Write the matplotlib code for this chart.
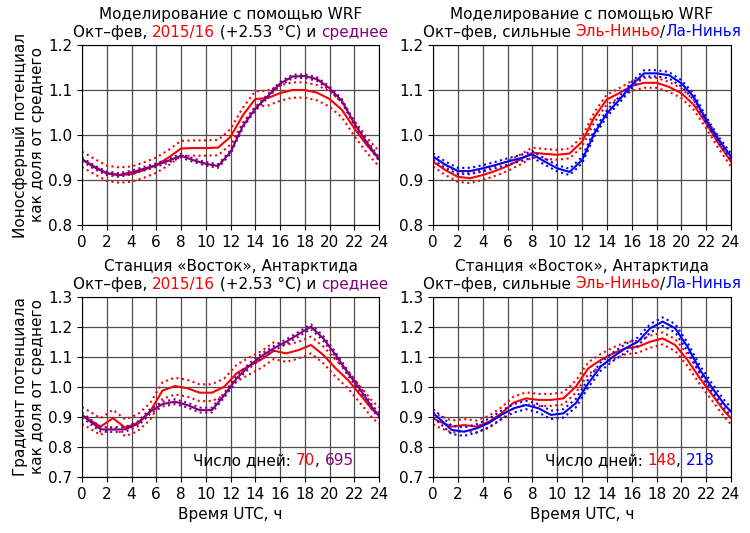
import numpy as np
import matplotlib
matplotlib.use("Agg")
import matplotlib.pyplot as plt
from matplotlib.transforms import offset_copy

# --- data --------------------------------------------------------------------
hours_wrf = list(range(25))
hours_vostok = [0, 0.5] + [h + 0.5 for h in range(1, 23)] + [23.5, 24]
hours_vostok = sorted(set(hours_vostok))

# WRF, 2015/16 vs mean
wrf_2015 = [0.946, 0.930, 0.915, 0.911, 0.913, 0.922, 0.933, 0.950, 0.970, 0.971,
            0.971, 0.972, 0.996, 1.044, 1.080, 1.082, 1.093, 1.100, 1.100, 1.094,
            1.080, 1.056, 1.015, 0.978, 0.947]
wrf_mean = [0.946, 0.928, 0.915, 0.911, 0.917, 0.925, 0.933, 0.943, 0.954, 0.944,
            0.936, 0.931, 0.962, 1.020, 1.058, 1.086, 1.114, 1.130, 1.131, 1.124,
            1.104, 1.076, 1.026, 0.984, 0.947]
# WRF, strong El Nino / La Nina
wrf_nino = [0.941, 0.922, 0.907, 0.904, 0.911, 0.920, 0.931, 0.945, 0.961, 0.958,
            0.956, 0.959, 0.985, 1.040, 1.079, 1.093, 1.109, 1.116, 1.116, 1.107,
            1.093, 1.067, 1.026, 0.981, 0.941]
wrf_nina = [0.952, 0.934, 0.920, 0.920, 0.926, 0.933, 0.941, 0.948, 0.957, 0.941,
            0.926, 0.918, 0.944, 1.004, 1.048, 1.078, 1.111, 1.137, 1.137, 1.133,
            1.115, 1.085, 1.033, 0.989, 0.952]

# Vostok, 2015/16 vs mean (x = 0, 0.5, 1.5, ..., 23.5, 24)
vos_2015 = [0.905, 0.893, 0.868, 0.896, 0.864, 0.881, 0.918, 0.988, 1.003, 0.996,
            0.981, 0.981, 1.001, 1.046, 1.070, 1.092, 1.121, 1.112, 1.123, 1.140,
            1.107, 1.062, 1.023, 0.973, 0.923, 0.905]
vos_mean = [0.907, 0.890, 0.859, 0.858, 0.859, 0.877, 0.918, 0.943, 0.951, 0.940,
            0.923, 0.923, 0.973, 1.029, 1.070, 1.103, 1.129, 1.151, 1.176, 1.201,
            1.162, 1.107, 1.046, 0.990, 0.929, 0.905]
# Vostok, strong El Nino / La Nina
vos_nino = [0.896, 0.885, 0.868, 0.873, 0.868, 0.884, 0.912, 0.948, 0.962, 0.957,
            0.957, 0.962, 1.001, 1.062, 1.090, 1.112, 1.129, 1.134, 1.151, 1.162,
            1.140, 1.090, 1.029, 0.973, 0.918, 0.896]
vos_nina = [0.912, 0.895, 0.857, 0.851, 0.862, 0.880, 0.907, 0.929, 0.940, 0.929,
            0.907, 0.912, 0.946, 1.012, 1.068, 1.101, 1.129, 1.151, 1.196, 1.218,
            1.196, 1.134, 1.057, 0.996, 0.940, 0.918]

# half-widths of the dotted confidence bands
ci_wrf_2015, ci_wrf_mean = 0.017, 0.004
ci_wrf_nino, ci_wrf_nina = 0.011, 0.007
ci_vos_2015, ci_vos_mean = 0.028, 0.008
ci_vos_nino, ci_vos_nina = 0.020, 0.014

n_days_2015, n_days_mean = "70", "695"
n_days_nino, n_days_nina = "148", "218"

RED, PURPLE, BLUE, BLACK = "red", "purple", "blue", "black"
FS = 11

fig = plt.figure(figsize=(7.5, 5.33), dpi=100)
R = fig.canvas.get_renderer()


def width(s):
    t = fig.text(0, 0, s + "|", fontsize=FS)
    w = t.get_window_extent(R).width
    t.remove()
    return w


def rich(ax, parts, x, y, dy=0, trans=None, ha="center"):
    """Draw a line of text built from (string, colour) parts."""
    trans = ax.transAxes if trans is None else trans
    bar = width("")
    full = "".join(s for s, _ in parts)
    total = width(full) - bar
    start = -total / 2 if ha == "center" else 0
    prefix = ""
    for s, c in parts:
        off = start + width(prefix) - bar
        tr = offset_copy(trans, fig=fig, x=off, y=dy, units="dots")
        ax.text(x, y, s, color=c, fontsize=FS, transform=tr, ha="left", va="center")
        prefix += s


def band(ax, x, y, ci, color):
    y = np.asarray(y)
    ax.plot(x, y, "-", color=color, lw=1.5)
    ax.plot(x, y + ci, ":", color=color, lw=1.5)
    ax.plot(x, y - ci, ":", color=color, lw=1.5)


def setup(ax, ylim, yticks):
    ax.set_xlim(0, 24)
    ax.set_ylim(*ylim)
    ax.set_xticks(range(0, 25, 2))
    ax.set_yticks(yticks)
    ax.set_yticklabels([f"{v:.1f}" for v in yticks])
    ax.tick_params(labelsize=FS)
    ax.grid(True, color="0.3", lw=0.9)
    ax.set_axisbelow(True)


L, W = 82 / 750, 297 / 750
L2, W2 = 433 / 750, 298 / 750
H = 180 / 533
B_top, B_bot = 1 - 225 / 533, 1 - 477 / 533

ax1 = fig.add_axes([L, B_top, W, H])
ax2 = fig.add_axes([L2, B_top, W2, H])
ax3 = fig.add_axes([L, B_bot, W, H])
ax4 = fig.add_axes([L2, B_bot, W2, H])

top_ticks = [0.8, 0.9, 1.0, 1.1, 1.2]
bot_ticks = [0.7, 0.8, 0.9, 1.0, 1.1, 1.2, 1.3]
for ax in (ax1, ax2):
    setup(ax, (0.8, 1.2), top_ticks)
for ax in (ax3, ax4):
    setup(ax, (0.7, 1.3), bot_ticks)

band(ax1, hours_wrf, wrf_2015, ci_wrf_2015, RED)
band(ax1, hours_wrf, wrf_mean, ci_wrf_mean, PURPLE)
band(ax2, hours_wrf, wrf_nino, ci_wrf_nino, RED)
band(ax2, hours_wrf, wrf_nina, ci_wrf_nina, BLUE)
band(ax3, hours_vostok, vos_2015, ci_vos_2015, RED)
band(ax3, hours_vostok, vos_mean, ci_vos_mean, PURPLE)
band(ax4, hours_vostok, vos_nino, ci_vos_nino, RED)
band(ax4, hours_vostok, vos_nina, ci_vos_nina, BLUE)

# titles (two lines, second one multi-coloured)
year_parts = [("Окт–фев, ", BLACK), ("2015/16", RED), (" (+2.53 °C) и ", BLACK),
              ("среднее", PURPLE)]
enso_parts = [("Окт–фев, сильные ", BLACK), ("Эль-Ниньо", RED), ("/", BLACK),
              ("Ла-Нинья", BLUE)]
for ax, head, parts in [(ax1, "Моделирование с помощью WRF", year_parts),
                        (ax2, "Моделирование с помощью WRF", enso_parts),
                        (ax3, "Станция «Восток», Антарктида", year_parts),
                        (ax4, "Станция «Восток», Антарктида", enso_parts)]:
    rich(ax, [(head, BLACK)], 0.5, 1.0, dy=31)
    rich(ax, parts, 0.5, 1.0, dy=13)

rich(ax3, [("Число дней: ", BLACK), (n_days_2015, RED), (", ", BLACK),
           (n_days_mean, PURPLE)], 9, 0.755, trans=ax3.transData, ha="left")
rich(ax4, [("Число дней: ", BLACK), (n_days_nino, RED), (", ", BLACK),
           (n_days_nina, BLUE)], 9, 0.755, trans=ax4.transData, ha="left")

ax1.set_ylabel("Ионосферный потенциал\nкак доля от среднего", fontsize=FS, labelpad=2)
ax3.set_ylabel("Градиент потенциала\nкак доля от среднего", fontsize=FS, labelpad=2)
ax3.set_xlabel("Время UTC, ч", fontsize=FS)
ax4.set_xlabel("Время UTC, ч", fontsize=FS)

fig.savefig("out.png", dpi=100)
